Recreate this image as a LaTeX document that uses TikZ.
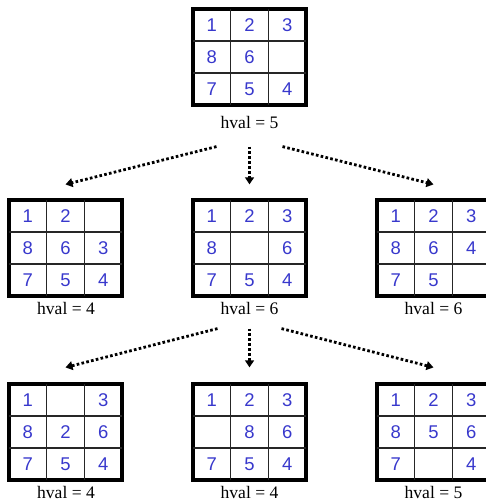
\documentclass[tikz,border=0pt]{standalone}
\usepackage{fontspec}
\setmainfont{Liberation Serif}
\newfontfamily\tilefont{Liberation Sans}
\usetikzlibrary{arrows.meta}
\usetikzlibrary{calc}
\usetikzlibrary{positioning}
\definecolor{tblue}{rgb}{0.22, 0.22, 0.8}

\tikzset{
  board/.style={draw, line width=1.8pt, minimum width=2.26cm, minimum height=1.92cm, inner sep=0pt},
  grid line/.style={line width=0.7pt, black!85},
  tile/.style={text=tblue, font=\tilefont\fontsize{10.5}{12}\selectfont},
  hlabel/.style={font=\fontsize{10}{12}\selectfont, inner sep=0pt},
  move/.style={line width=1.6pt, dash pattern=on 1.5pt off 1.3pt, -{Triangle[length=4pt, width=5pt]}}
}

% board: name, left, top, tiles
\newcommand{\puzzle}[4]{%
  \node [board] (#1) at (#2+56.5, #3+48) {};
  \foreach \k in {1, 2} {
    \draw [grid line] (#2+37.67*\k, #3) -- (#2+37.67*\k, #3+96);
    \draw [grid line] (#2, #3+32*\k) -- (#2+113, #3+32*\k);
  }
  \foreach \t [count=\i from 0] in {#4} {
    \pgfmathtruncatemacro{\row}{div(\i, 3)}
    \pgfmathtruncatemacro{\col}{mod(\i, 3)}
    \node [tile] at (#2+18.8+37.67*\col, #3+16+32*\row) {\t};
  }
}

\begin{document}
\begin{tikzpicture}[x=0.02cm, y=-0.02cm]
  \useasboundingbox (0, 0) rectangle (485, 500);

  \puzzle{top}{193}{9}{1, 2, 3, 8, 6, {}, 7, 5, 4}
  \node [hlabel] (top-h) at (249.5, 122) {hval = 5};

  \puzzle{l}{9}{200}{1, 2, {}, 8, 6, 3, 7, 5, 4}
  \puzzle{m}{193}{200}{1, 2, 3, 8, {}, 6, 7, 5, 4}
  \puzzle{r}{377}{200}{1, 2, 3, 8, 6, 4, 7, 5, {}}
  \node [hlabel] (l-h) at (66, 308) {hval = 4};
  \node [hlabel] (m-h) at (249.5, 308) {hval = 6};
  \node [hlabel] (r-h) at (433.5, 308) {hval = 6};

  \puzzle{ml}{9}{384}{1, {}, 3, 8, 2, 6, 7, 5, 4}
  \puzzle{mm}{193}{384}{1, 2, 3, {}, 8, 6, 7, 5, 4}
  \puzzle{mr}{377}{384}{1, 2, 3, 8, 5, 6, 7, {}, 4}
  \node [hlabel] (ml-h) at (66, 492) {hval = 4};
  \node [hlabel] (mm-h) at (249.5, 492) {hval = 4};
  \node [hlabel] (mr-h) at (433.5, 492) {hval = 5};

  % expanding the root
  \draw [move] ($(top.south)+(-33, 40)$) -- ($(l.north)+(0, -14)$);
  \draw [move] ($(top.south)+(0, 40)$) -- ($(m.north)+(0, -14)$);
  \draw [move] ($(top.south)+(33, 40)$) -- ($(r.north)+(0, -14)$);

  % expanding the middle child
  \draw [move] ($(m.south)+(-32, 31)$) -- ($(ml.north)+(0, -15)$);
  \draw [move] ($(m.south)+(0, 31)$) -- ($(mm.north)+(0, -15)$);
  \draw [move] ($(m.south)+(32, 31)$) -- ($(mr.north)+(0, -15)$);
\end{tikzpicture}
\end{document}
